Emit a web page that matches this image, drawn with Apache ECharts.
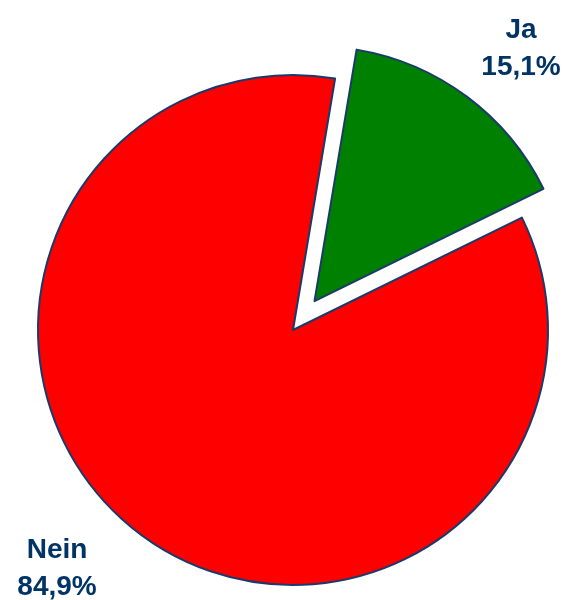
<!DOCTYPE html>
<html><head><meta charset="utf-8">
<script src="https://cdn.jsdelivr.net/npm/echarts@6/dist/echarts.min.js"></script>
<style>html,body{margin:0;padding:0;background:#fff}#c{width:567px;height:600px}</style>
</head><body><div id="c"></div>
<script>
const categories = ['Ja', 'Nein'];
const values = [15.1, 84.9];
const valueLabels = ['15,1%', '84,9%'];
const colors = ['#008000', '#FF0000'];
const labelPos = [[521, 12], [57, 532]];

const chart = echarts.init(document.getElementById('c'), null, {renderer: 'canvas'});
chart.setOption({
  animation: false,
  graphic: categories.map((c, i) => ({
    type: 'text',
    x: labelPos[i][0],
    y: labelPos[i][1],
    style: {
      text: c + '\n' + valueLabels[i],
      fill: '#003366',
      font: 'bold 28px "Liberation Sans", Arial, sans-serif',
      lineHeight: 37,
      align: 'center',
      verticalAlign: 'top'
    }
  })),
  series: [{
    type: 'pie',
    center: [293, 330],
    radius: [0, 255],
    startAngle: 80.5,
    clockwise: true,
    selectedMode: 'single',
    selectedOffset: 36,
    avoidLabelOverlap: false,
    itemStyle: {borderColor: '#1A3A6B', borderWidth: 2},
    emphasis: {disabled: true},
    labelLine: {show: false},
    label: {show: false},
    data: categories.map((c, i) => ({name: c, value: values[i], selected: i === 0, itemStyle: {color: colors[i]}}))
  }]
});
</script></body></html>
